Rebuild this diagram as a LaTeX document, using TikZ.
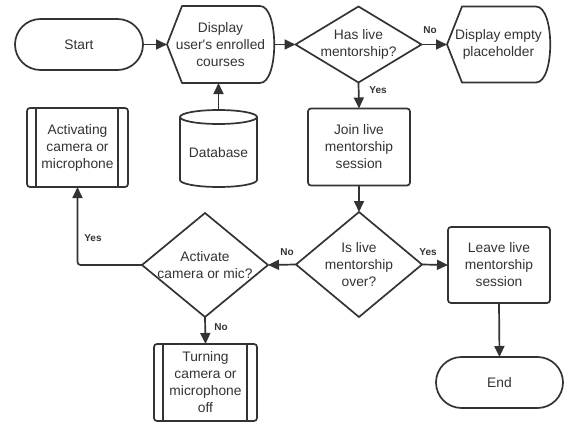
\documentclass[tikz,border=0pt]{standalone}
\usepackage{fontspec}
\setmainfont{Liberation Sans}
\usetikzlibrary{arrows.meta,shapes.geometric,calc}
\definecolor{ink}{HTML}{333333}

% outline of a "display" symbol around a named rectangular node
\newcommand{\displayoutline}[1]{%
  \draw[line join=round] (#1.west) -- ($(#1.north west)+(15,0)$) -- ($(#1.north east)+(-14,0)$)
    .. controls ($(#1.north east)+(5,0)$) and ($(#1.south east)+(5,0)$) .. ($(#1.south east)+(-14,0)$)
    -- ($(#1.south west)+(15,0)$) -- cycle;}
% inner side bars of a predefined-process box
\newcommand{\processbars}[1]{%
  \draw ($(#1.north west)+(9,0)$) -- ($(#1.south west)+(9,0)$);
  \draw ($(#1.north east)+(-10,0)$) -- ($(#1.south east)+(-10,0)$);}

\begin{document}
\begin{tikzpicture}[x=1pt,y=-1pt,
  line width=1.7pt, draw=ink, text=ink,
  every node/.style={font=\fontsize{13.8}{17}\selectfont, align=center, inner sep=0pt, outer sep=0pt, text=ink},
  terminal/.style={draw, rounded corners=25.5pt, minimum width=128pt, minimum height=51pt},
  procbox/.style={draw, rounded corners=3pt, minimum width=102pt, minimum height=77pt},
  subproc/.style={draw, rounded corners=3pt, minimum width=102pt, minimum height=78pt},
  dispbox/.style={minimum width=107pt, minimum height=77pt},
  decision/.style={draw, diamond, minimum width=126pt, minimum height=#1},
  dbbox/.style={minimum width=77pt, minimum height=77pt},
  lbl/.style={font=\fontsize{10}{12}\selectfont\bfseries},
  arr/.style={-{Triangle[length=11pt,width=10pt]}}
]
\useasboundingbox (0,0) rectangle (566,423);

% top row
\node[terminal] (start) at (79,44.5) {Start};
\node[dispbox] (disp) at (220.5,44.5) {Display\\user\textquotesingle s enrolled\\courses};
\displayoutline{disp}
\node[decision=76pt] (d1) at (358.5,44.5) {};
\node (d1t) at (d1) {Has live\\mentorship?};
\node[dispbox, minimum width=103pt, minimum height=76pt] (ph) at (498.5,44.5) {Display empty\\placeholder};
\displayoutline{ph}

% middle row
\node[subproc, minimum width=101pt, minimum height=79pt] (act) at (77.5,147.5) {Activating\\camera or\\microphone};
\processbars{act}
\node[dbbox] (db) at (218.5,148.5) {};
\node (dbt) at ($(db.center)+(0,4)$) {Database};
\draw ($(db.north west)+(0,7)$) -- ($(db.south west)+(0,-7)$)
  arc[start angle=180, end angle=360, x radius=38.5pt, y radius=7pt]
  -- ($(db.north east)+(0,7)$);
\draw ($(db.north)+(0,7)$) ellipse [x radius=38.5pt, y radius=7pt];
\node[procbox] (join) at (359,147) {Join live\\mentorship\\session};

% decision row
\node[decision=105pt] (d2) at (359,264.5) {};
\node (d2t) at (d2) {Is live\\mentorship\\over?};
\node[procbox, minimum height=76pt] (leave) at (499,265) {Leave live\\mentorship\\session};
\node[decision=104pt] (d3) at (205,265) {};
\node (d3t) at (d3) {Activate\\camera or mic?};

% bottom row
\node[subproc, minimum width=103pt, minimum height=77pt] (turn) at (205.5,382.5) {Turning\\camera or\\microphone\\off};
\processbars{turn}
\node[terminal, minimum width=127pt] (endn) at (499.5,382.5) {End};

% connectors
\draw[arr] (start.east) -- (disp.west);
\draw[arr] (disp.east) -- (d1.west);
\draw[arr] (d1.east) -- (ph.west);
\draw[arr] (d1.south) -- (join.north);
\draw[arr] (db.north) -- (db.north |- disp.south);
\draw[arr] (join.south) -- (d2.north);
\draw[arr] (d2.east) -- (leave.west);
\draw[arr] (d2.west) -- (d3.east);
\draw[arr] (d3.south) -- (turn.north);
\draw[arr, rounded corners=3pt] (d3.west) -| (act.south);
\draw[arr] (leave.south) -- (endn.north);

% branch labels
\node[lbl] (no1) at (430,30) {No};
\node[lbl] (yes1) at (378,90) {Yes};
\node[lbl] (yes2) at (428,252) {Yes};
\node[lbl] (no2) at (287,252) {No};
\node[lbl] (no3) at (221,327) {No};
\node[lbl] (yes3) at (93,238) {Yes};
\end{tikzpicture}
\end{document}
